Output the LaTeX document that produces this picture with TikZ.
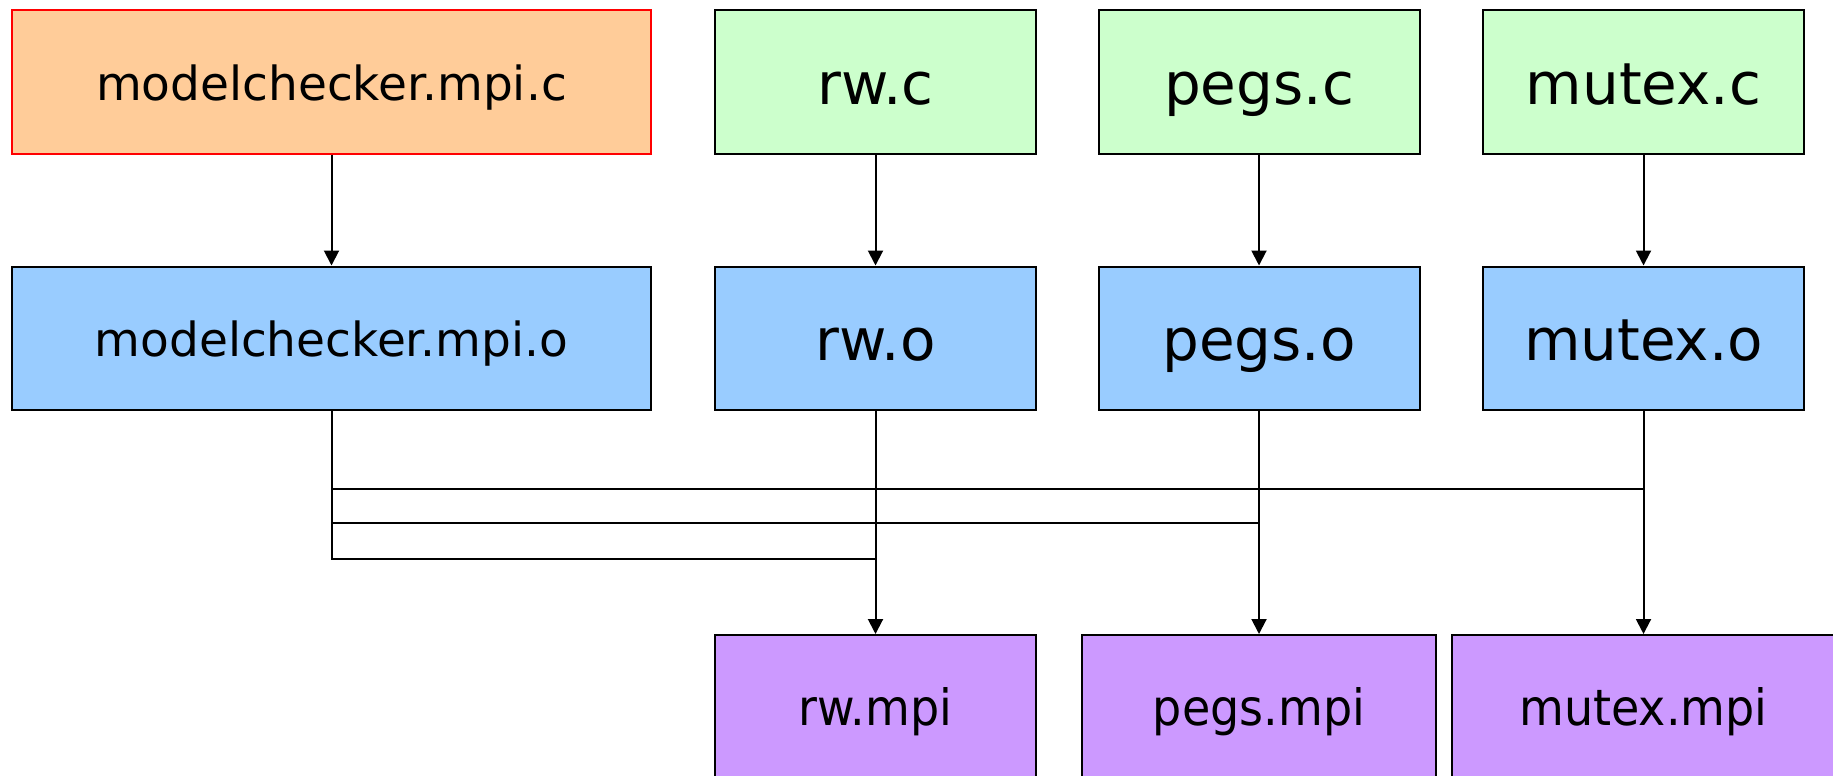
\documentclass[tikz,border=0pt]{standalone}
\usepackage{fontspec}
\setmainfont{DejaVu Sans}
\newfontfamily\narrowfont[FakeStretch=0.92]{DejaVu Sans}
\usepackage{tikz}
\usetikzlibrary{positioning,arrows.meta}

\definecolor{srcorange}{HTML}{FFCC99}
\definecolor{srcgreen}{HTML}{CCFFCC}
\definecolor{objblue}{HTML}{99CCFF}
\definecolor{exepurple}{HTML}{CC99FF}

\tikzset{
    filebox/.style={draw=black, line width=2pt, inner sep=0pt, minimum width=321pt, minimum height=143pt},
    cfile/.style={filebox, fill=srcgreen, font=\fontsize{58pt}{64pt}\selectfont, text height=44pt, text depth=0pt},
    ofile/.style={cfile, fill=objblue},
    mpifile/.style={filebox, fill=exepurple, font=\narrowfont\fontsize{50pt}{56pt}\selectfont, text height=38pt, text depth=0pt},
    wide/.style={minimum width=639pt, font=\fontsize{47pt}{54pt}\selectfont, text height=36pt}
}

\begin{document}
\begin{tikzpicture}[x=1pt, y=-1pt, line width=2pt, >={Triangle[length=15pt,width=15pt]}]
    \useasboundingbox (0,0) rectangle (1833,776);

    % sources
    \node[cfile, wide, fill=srcorange, draw=red] (mcc) at (331.5,82) {modelchecker.mpi.c};
    \node[cfile] (rwc) at (875.5,82) {rw.c};
    \node[cfile] (pegsc) at (1259,82) {pegs.c};
    \node[cfile] (mutexc) at (1643.5,82) {mutex.c};

    % objects
    \node[ofile, wide] (mco) at (331.5,338) {modelchecker.mpi.o};
    \node[ofile] (rwo) at (875.5,338) {rw.o};
    \node[ofile] (pegso) at (1259,338) {pegs.o};
    \node[ofile] (mutexo) at (1643.5,338) {mutex.o};

    % executables
    \node[mpifile] (rwmpi) at (875.5,706.5) {rw.mpi};
    \node[mpifile, minimum width=354pt] (pegsmpi) at (1259,706.5) {pegs.mpi};
    \node[mpifile, minimum width=384pt] (mutexmpi) at (1643.5,706.5) {mutex.mpi};

    \draw[->] (mcc) -- (mco);
    \draw[->] (rwc) -- (rwo);
    \draw[->] (pegsc) -- (pegso);
    \draw[->] (mutexc) -- (mutexo);

    \draw[->] (rwo) -- (rwmpi);
    \draw[->] (pegso) -- (pegsmpi);
    \draw[->] (mutexo) -- (mutexmpi);

    % link lines from the shared object
    \coordinate (linkmutex) at (1643.5,489);
    \coordinate (linkpegs) at (1259,522.5);
    \coordinate (linkrw) at (875.5,559);
    \draw (mco.south) |- (linkmutex);
    \draw (mco.south) |- (linkpegs);
    \draw (mco.south) |- (linkrw);
\end{tikzpicture}
\end{document}
